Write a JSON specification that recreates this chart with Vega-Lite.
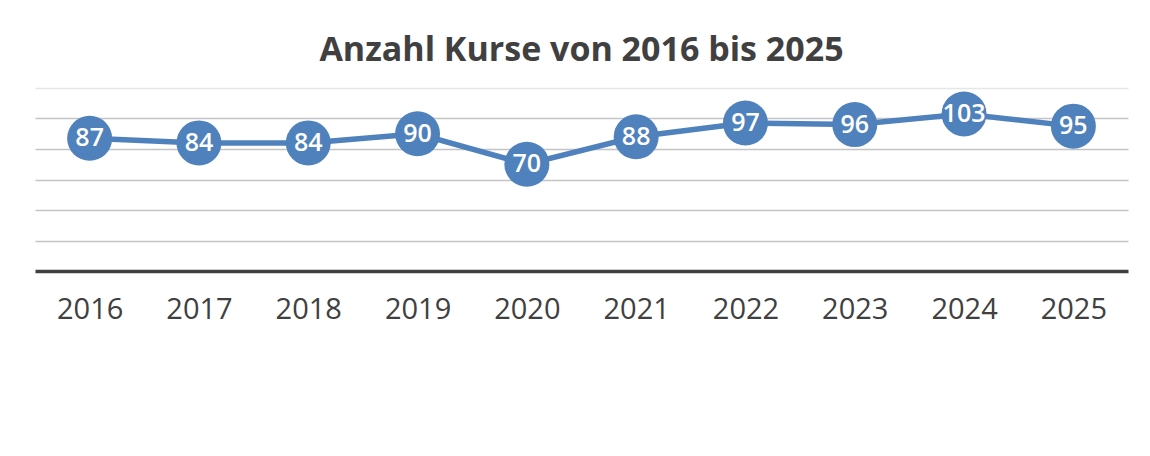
{
  "$schema": "https://vega.github.io/schema/vega-lite/v6.json",
  "autosize": {"type": "none"},
  "width": 1093,
  "height": 183,
  "padding": {"left": 35, "top": 88, "right": 22, "bottom": 185},
  "background": "white",
  "config": {"view": {"stroke": null}, "font": "Open Sans"},
  "title": {
    "text": "Anzahl Kurse von 2016 bis 2025",
    "anchor": "middle",
    "font": "Open Sans",
    "fontSize": 34,
    "fontWeight": 700,
    "color": "#404040",
    "offset": 20
  },
  "data": {
    "values": [
      {"year": "2016", "count": 87},
      {"year": "2017", "count": 84},
      {"year": "2018", "count": 84},
      {"year": "2019", "count": 90},
      {"year": "2020", "count": 70},
      {"year": "2021", "count": 88},
      {"year": "2022", "count": 97},
      {"year": "2023", "count": 96},
      {"year": "2024", "count": 103},
      {"year": "2025", "count": 95}
    ]
  },
  "encoding": {
    "x": {
      "field": "year",
      "type": "ordinal",
      "scale": {"type": "point", "padding": 0.5},
      "axis": {
        "title": null,
        "labelAngle": 0,
        "labelFont": "Open Sans",
        "labelFontSize": 29,
        "labelColor": "#404040",
        "labelPadding": 24,
        "ticks": false,
        "domainColor": "#404040",
        "domainWidth": 3.5,
        "grid": false,
        "zindex": 1
      }
    },
    "y": {
      "field": "count",
      "type": "quantitative",
      "scale": {"domain": [0, 120], "nice": false},
      "axis": {
        "title": null,
        "labels": false,
        "ticks": false,
        "domain": false,
        "values": [20, 40, 60, 80, 100, 120],
        "grid": true,
        "gridWidth": 1.5,
        "gridColor": {"condition": {"test": "datum.value >= 120", "value": "#e6e6e6"}, "value": "#c4c4c4"}
      }
    }
  },
  "layer": [
    {"mark": {"type": "line", "color": "#4f81bd", "strokeWidth": 5.5}},
    {"mark": {"type": "circle", "color": "#4f81bd", "opacity": 1, "size": 2025}},
    {
      "mark": {"type": "text", "color": "white", "font": "Open Sans", "fontSize": 25, "fontWeight": 600, "baseline": "middle", "align": "center"},
      "encoding": {"text": {"field": "count", "type": "quantitative"}}
    }
  ]
}
